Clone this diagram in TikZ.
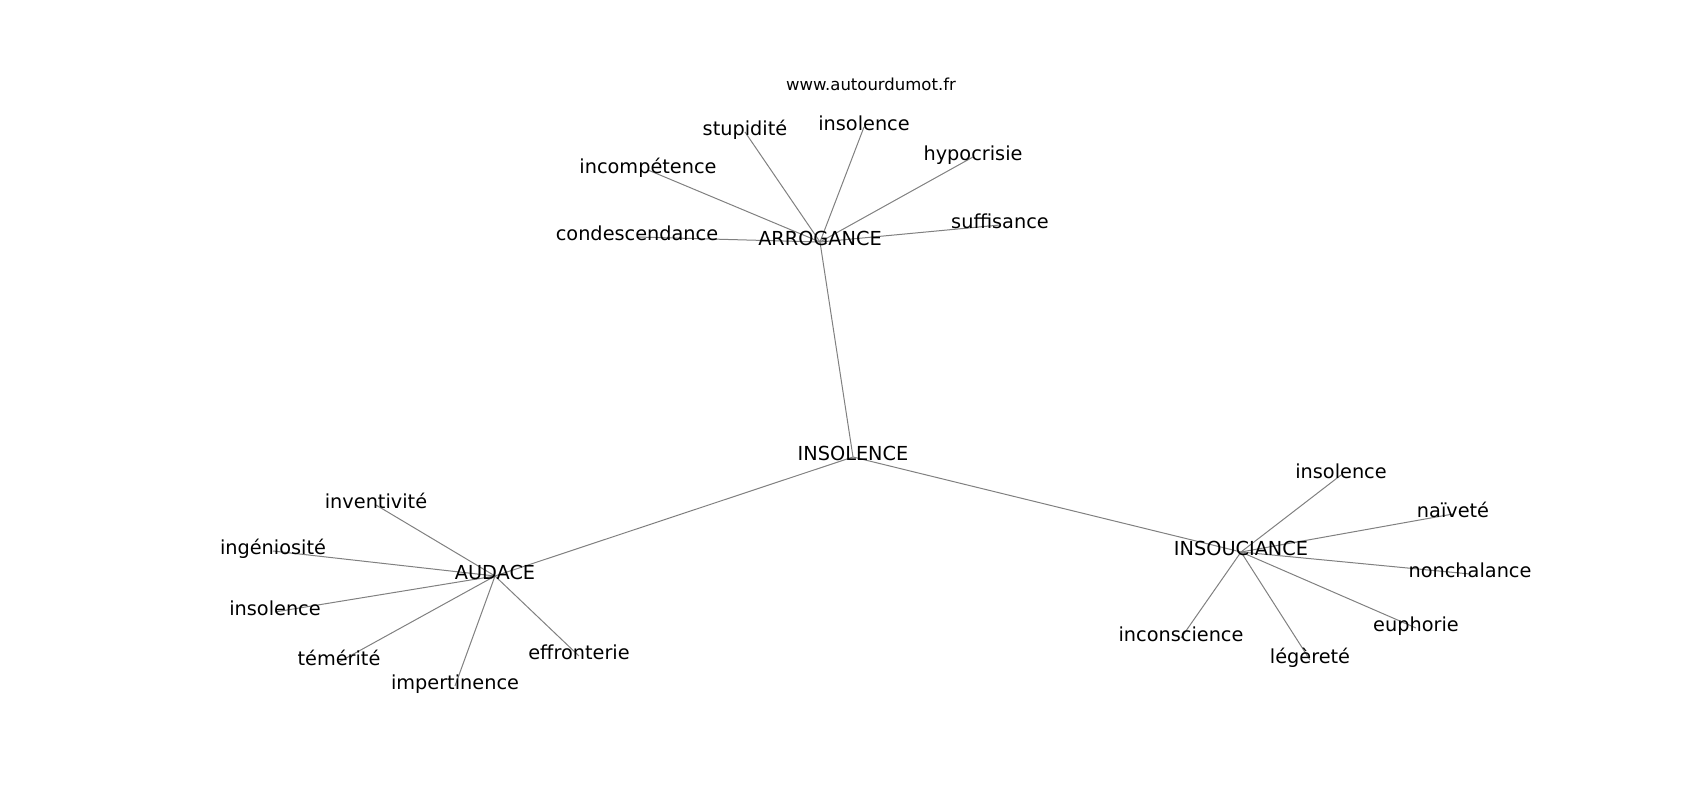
\documentclass[tikz,border=0pt]{standalone}
\usepackage{fontspec}
\setmainfont{DejaVu Sans}
\usetikzlibrary{backgrounds}

\begin{document}
\begin{tikzpicture}[x=1pt,y=-1pt,
    word/.style={inner sep=0, text height=0.73em, text depth=0pt, font=\fontsize{19.3}{23}\selectfont},
    edge/.style={draw=gray, line width=1pt}]

\useasboundingbox (0,0) rectangle (1700,800);

\node [inner sep=0, font=\fontsize{16.5}{19}\selectfont, text height=0.73em, text depth=0pt] (site) at (871,87) {www.autourdumot.fr};

% centre
\node [word] (insolence) at (853,457) {INSOLENCE};

% arrogance
\node [word] (arrogance) at (820,242) {ARROGANCE};
\node [word] (stupidite) at (745,132) {stupidité};
\node [word] (insolA) at (864,127) {insolence};
\node [word] (hypocrisie) at (973,157) {hypocrisie};
\node [word] (incompetence) at (648,170) {incompétence};
\node [word] (condescendance) at (637,237) {condescendance};
\node [word] (suffisance) at (1000,225) {suffisance};

% audace
\node [word] (audace) at (495,576) {AUDACE};
\node [word] (inventivite) at (376,505) {inventivité};
\node [word] (ingeniosite) at (273,551) {ingéniosité};
\node [word] (insolB) at (275,612) {insolence};
\node [word] (temerite) at (339,662) {témérité};
\node [word] (impertinence) at (455,686) {impertinence};
\node [word] (effronterie) at (579,656) {effronterie};

% insouciance
\node [word] (insouciance) at (1241,552) {INSOUCIANCE};
\node [word] (insolC) at (1341,475) {insolence};
\node [word] (naivete) at (1453,514) {naïveté};
\node [word] (nonchalance) at (1470,574) {nonchalance};
\node [word] (euphorie) at (1416,628) {euphorie};
\node [word] (legerete) at (1310,660) {légèreté};
\node [word] (inconscience) at (1181,638) {inconscience};

\begin{scope}[on background layer]
\draw [edge] (insolence.center) -- (arrogance.center);
\draw [edge] (insolence.center) -- (audace.center);
\draw [edge] (insolence.center) -- (insouciance.center);

\foreach \w in {stupidite,insolA,hypocrisie,incompetence,condescendance,suffisance}
    \draw [edge] (arrogance.center) -- (\w.center);
\foreach \w in {inventivite,ingeniosite,insolB,temerite,impertinence,effronterie}
    \draw [edge] (audace.center) -- (\w.center);
\foreach \w in {insolC,naivete,nonchalance,euphorie,legerete,inconscience}
    \draw [edge] (insouciance.center) -- (\w.center);
\end{scope}
\end{tikzpicture}
\end{document}
